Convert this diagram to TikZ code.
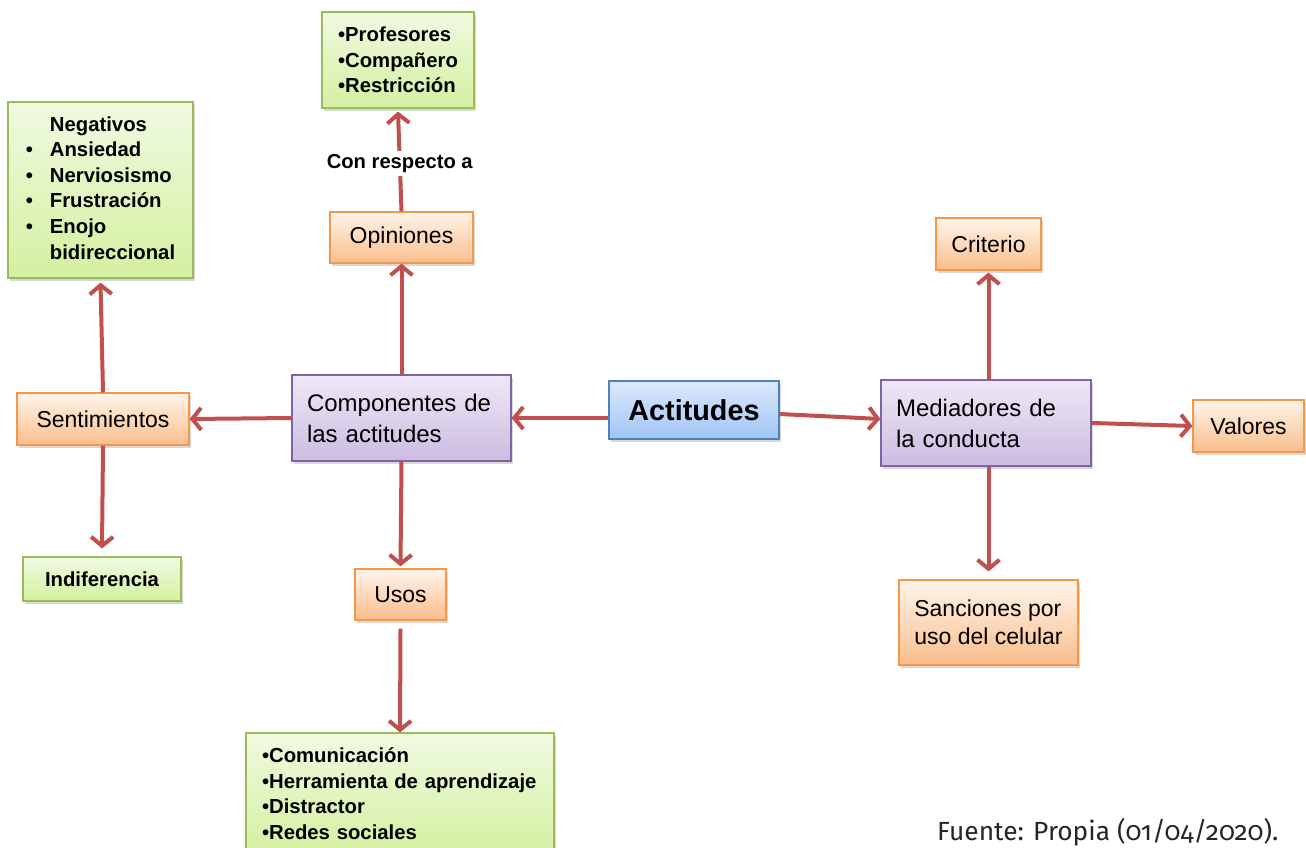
\documentclass[tikz,border=0pt]{standalone}
\usepackage{fontspec}
\setmainfont{Liberation Sans}
\newfontfamily\fuentefont[Numbers=OldStyle]{Fira Sans}
\usetikzlibrary{arrows.meta,shadows,positioning}
\definecolor{rojoflecha}{HTML}{C0504D}
\definecolor{naranjaborde}{HTML}{F79646}
\definecolor{moradoborde}{HTML}{8064A2}
\definecolor{verdeborde}{HTML}{9BBB59}
\definecolor{azulborde}{HTML}{4F81BD}
\tikzset{
    caja/.style={draw, line width=1.2pt, inner sep=0pt,
        drop shadow={shadow xshift=2pt, shadow yshift=-3pt, fill=black!30}},
    naranja/.style={caja, draw=naranjaborde, top color=orange!8, bottom color={rgb,255:red,250;green,190;blue,140},
        font=\fontsize{23}{28}\selectfont},
    morado/.style={caja, draw=moradoborde, top color={rgb,255:red,238;green,232;blue,246}, bottom color={rgb,255:red,204;green,188;blue,226},
        font=\fontsize{24}{31}\selectfont, align=left},
    verde/.style={caja, draw=verdeborde, top color={rgb,255:red,240;green,250;blue,225}, bottom color={rgb,255:red,212;green,240;blue,160},
        font=\fontsize{20.3}{25.6}\selectfont\bfseries, align=left},
    azul/.style={caja, draw=azulborde, top color={rgb,255:red,220;green,234;blue,252}, bottom color={rgb,255:red,160;green,196;blue,244},
        font=\fontsize{28.8}{32}\selectfont\bfseries},
    flecha/.style={draw=rojoflecha, line width=4pt, -{Straight Barb[length=9pt,width=22pt]}},
    etiqueta/.style={fill=white, inner sep=3pt, font=\fontsize{20.2}{24}\selectfont\bfseries}}

\begin{document}
\begin{tikzpicture}[x=1pt,y=-1pt]
    \useasboundingbox[fill=white] (0,0) rectangle (1306,848);
    \clip (0,0) rectangle (1306,848);

    % centro
    \node[azul, minimum width=170pt, minimum height=58pt] (act) at (694,410) {Actitudes};
    \node[morado, minimum width=219pt, minimum height=86pt, text width=189pt] (comp) at (401.5,418) {Componentes de\\las actitudes};
    \node[morado, minimum width=210pt, minimum height=86pt, text width=180pt] (med) at (986,423) {Mediadores de\\la conducta};

    % rama izquierda
    \node[naranja, minimum width=143pt, minimum height=51pt] (opin) at (401.5,237.5) {Opiniones};
    \node[verde, minimum width=152pt, minimum height=96pt] (prof) at (398,60)
        {\textbullet Profesores\\\textbullet Compañero\\\textbullet Restricción};
    \node[naranja, minimum width=172pt, minimum height=52pt] (sent) at (103,419) {Sentimientos};
    \node[verde, minimum width=185pt, minimum height=176pt] (neg) at (100.5,190)
        {\begin{tabular}{@{}l@{\hspace{17pt}}l@{}}
            & Negativos\\
            \textbullet & Ansiedad\\
            \textbullet & Nerviosismo\\
            \textbullet & Frustración\\
            \textbullet & Enojo\\
            & bidireccional
        \end{tabular}};
    \node[verde, minimum width=158pt, minimum height=44pt] (indif) at (102,579) {Indiferencia};
    \node[naranja, minimum width=91pt, minimum height=51pt] (usos) at (400.5,594.5) {Usos};
    \node[verde, minimum width=308pt, minimum height=121pt, text width=276pt] (lista) at (400,793.5)
        {\textbullet Comunicación\\\textbullet Herramienta de aprendizaje\\\textbullet Distractor\\\textbullet Redes sociales};

    % rama derecha
    \node[naranja, minimum width=105pt, minimum height=52pt] (crit) at (988.5,244) {Criterio};
    \node[naranja, minimum width=111pt, minimum height=52pt] (val) at (1248.5,426) {Valores};
    \node[naranja, minimum width=179pt, minimum height=85pt, align=left] (sanc) at (988.5,622.5)
        {Sanciones por\\uso del celular};

    \node[anchor=base west, text=black!85, font=\fuentefont\fontsize{26.3}{30}\selectfont, inner sep=0pt] (fuente) at (937,840)
        {Fuente: Propia (01/04/2020).};

    % flechas
    \draw[flecha] (act.west |- comp.east) -- (comp.east);
    \draw[flecha] ([yshift=-4pt]act.east) -- ([yshift=4pt]med.west);
    \draw[flecha] (comp.north) -- (opin.south);
    \draw[flecha] (opin.north) -- node[etiqueta, yshift=-2pt] {Con respecto a} ([yshift=-3pt]prof.south);
    \draw[flecha] (comp.west) -- (sent.east);
    \draw[flecha] (sent.north) -- ([yshift=-4pt]neg.south);
    \draw[flecha] (sent.south) -- ([yshift=8pt]indif.north);
    \draw[flecha] (comp.south) -- ([yshift=2pt]usos.north);
    \draw[flecha] ([yshift=-8pt]usos.south) -- (lista.north);
    \draw[flecha] (med.north -| crit.south) -- ([yshift=-2pt]crit.south);
    \draw[flecha] (med.east) -- (val.west);
    \draw[flecha] (med.south -| sanc.north) -- ([yshift=8pt]sanc.north);
\end{tikzpicture}
\end{document}
